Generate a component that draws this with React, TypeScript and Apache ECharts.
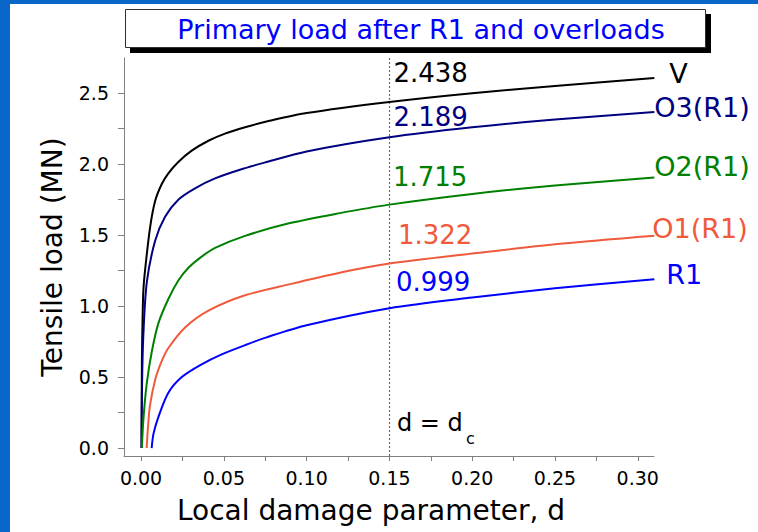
import React, { useEffect, useRef } from "react";
import * as echarts from "echarts";

const titleText = "Primary load after R1 and overloads";
const xAxisName = "Local damage parameter, d";
const yAxisName = "Tensile load (MN)";

const seriesNames = ["V", "O3(R1)", "O2(R1)", "O1(R1)", "R1"];
const seriesColors = ["#000000", "#000080", "#008000", "#f05a3c", "#0000ff"];

const loadV = [[0.0003,0],[0.0005,0.6],[0.0009,0.9],[0.0014,1.11],[0.0024,1.25],[0.0054,1.55],[0.0085,1.74],[0.0125,1.86],[0.0165,1.935],[0.0225,2.015],[0.0306,2.095],[0.0407,2.165],[0.0507,2.215],[0.0628,2.26],[0.0758,2.3],[0.1,2.36],[0.15,2.438],[0.2,2.5],[0.25,2.55],[0.31,2.607]];
const loadO3 = [[0.0003,0],[0.0006,0.45],[0.0014,0.8],[0.0035,1.17],[0.0085,1.46],[0.0145,1.63],[0.0225,1.75],[0.0326,1.83],[0.0447,1.9],[0.0628,1.972],[0.0758,2.015],[0.1,2.09],[0.15,2.19],[0.2,2.26],[0.25,2.315],[0.31,2.367]];
const loadO2 = [[0.0005,0],[0.0014,0.2],[0.0034,0.45],[0.0065,0.68],[0.0105,0.88],[0.0165,1.05],[0.0225,1.18],[0.0286,1.27],[0.0356,1.34],[0.0447,1.41],[0.0628,1.495],[0.09,1.585],[0.12,1.655],[0.15,1.715],[0.2,1.79],[0.25,1.85],[0.31,1.906]];
const loadO1 = [[0.0034,0],[0.0042,0.15],[0.0054,0.3],[0.0085,0.48],[0.0124,0.61],[0.0165,0.705],[0.0266,0.85],[0.0407,0.968],[0.0628,1.076],[0.09,1.155],[0.12,1.235],[0.15,1.3],[0.2,1.37],[0.25,1.435],[0.31,1.495]];
const loadR1 = [[0.0064,0],[0.0075,0.1],[0.0105,0.22],[0.0165,0.39],[0.0246,0.5],[0.0366,0.59],[0.0487,0.66],[0.0628,0.725],[0.0758,0.78],[0.1,0.865],[0.15,0.985],[0.2,1.06],[0.25,1.125],[0.31,1.19]];
const seriesData = [loadV, loadO3, loadO2, loadO1, loadR1];

const dc = 0.15;
const dcLoads = [2.438, 2.189, 1.715, 1.322, 0.999];

const xLabelValues = [0, 0.05, 0.1, 0.15, 0.2, 0.25, 0.3];
const xTickValues = [0, 0.025, 0.05, 0.075, 0.1, 0.125, 0.15, 0.175, 0.2, 0.225, 0.25, 0.275, 0.3];
const yLabelValues = [0, 0.5, 1, 1.5, 2, 2.5];
const yTickValues = [0, 0.25, 0.5, 0.75, 1, 1.25, 1.5, 1.75, 2, 2.25, 2.5];

const FONT = "DejaVu Sans";
const annOffsets = [[3.5, -29], [3.5, -20], [3, -28], [8, -25.5], [6, -24.6]];
const endOffsets = [[15, -5], [0, -5], [0, -11], [-2, -7], [12, -5]];

export default function App() {
  const ref = useRef<HTMLDivElement>(null);
  useEffect(() => {
    if (!ref.current) return;
    const chart = echarts.init(ref.current, null, { renderer: "svg" });
    const series: any[] = seriesData.map((data, i) => {
      const mpData: any[] = [
        {
          coord: [dc, dcLoads[i]],
          label: {
            show: true,
            position: "right",
            distance: 0,
            offset: annOffsets[i],
            formatter: dcLoads[i].toFixed(3),
            color: seriesColors[i],
            fontSize: 26,
            fontFamily: FONT,
          },
        },
      ];
      if (i === 0) {
        mpData.push({
          coord: [dc, 0],
          label: { show: true, position: "right", distance: 0, offset: [7, -25], formatter: "d = d", color: "#000", fontSize: 24, fontFamily: FONT },
        });
        mpData.push({
          coord: [dc, 0],
          label: { show: true, position: "right", distance: 0, offset: [76, -10], formatter: "c", color: "#000", fontSize: 16, fontFamily: FONT },
        });
      }
      const s: any = {
        type: "line",
        name: seriesNames[i],
        data,
        symbol: "none",
        showSymbol: false,
        smooth: 0.3,
        lineStyle: { color: seriesColors[i], width: 2 },
        itemStyle: { color: seriesColors[i] },
        z: 3,
        endLabel: {
          show: true,
          formatter: seriesNames[i],
          color: seriesColors[i],
          fontSize: 27,
          fontFamily: FONT,
          distance: 0,
          offset: endOffsets[i],
        },
        markPoint: {
          symbol: "circle",
          symbolSize: 1,
          silent: true,
          itemStyle: { color: "rgba(0,0,0,0)" },
          data: mpData,
        },
      };
      if (i === 0) {
        s.markLine = {
          silent: true,
          symbol: "none",
          label: { show: false },
          lineStyle: { color: "#707070", type: [2, 2], width: 1.2 },
          data: [{ xAxis: dc }],
          z: 1,
        };
      }
      return s;
    });

    const axisLineStyle = { color: "#808080", width: 1 };
    chart.setOption({
      animation: false,
      backgroundColor: "#ffffff",
      textStyle: { fontFamily: FONT },
      title: {
        text: titleText,
        left: 416,
        top: 24,
        textAlign: "center",
        textVerticalAlign: "middle",
        z: 10,
        textStyle: { color: "#0000ff", fontSize: 27, fontWeight: "normal", fontFamily: FONT },
      },
      graphic: [
        { type: "rect", z: 0, shape: { x: 0, y: 0, width: 10, height: 532 }, style: { fill: "#0866c8" } },
        { type: "rect", z: 0, shape: { x: 0, y: 0, width: 758, height: 4 }, style: { fill: "#0866c8" } },
        { type: "rect", z: 0, shape: { x: 130, y: 14, width: 581, height: 39 }, style: { fill: "#000000" } },
        { type: "rect", z: 1, shape: { x: 125.5, y: 9.5, width: 580, height: 38 }, style: { fill: "#ffffff", stroke: "#303030", lineWidth: 1 } },
      ],
      grid: { left: 124, right: 104, top: 58, bottom: 76 },
      xAxis: {
        type: "value",
        min: -0.0103,
        max: 0.3098,
        name: xAxisName,
        nameLocation: "middle",
        nameGap: 40,
        nameTextStyle: { fontSize: 28, color: "#000", fontFamily: FONT, padding: [0, 36, 0, 0] },
        axisLine: { show: true, onZero: false, lineStyle: axisLineStyle },
        axisTick: { show: true, customValues: xTickValues, length: 5, lineStyle: axisLineStyle },
        axisLabel: {
          customValues: xLabelValues,
          formatter: (v: number) => v.toFixed(2),
          fontSize: 19,
          color: "#000",
          margin: 12,
          fontFamily: FONT,
        },
        splitLine: { show: false },
      },
      yAxis: {
        type: "value",
        min: -0.056,
        max: 2.748,
        name: yAxisName,
        nameLocation: "middle",
        nameGap: 58,
        nameRotate: 90,
        nameTextStyle: { fontSize: 28, color: "#000", fontFamily: FONT },
        axisLine: { show: true, onZero: false, lineStyle: axisLineStyle },
        axisTick: { show: true, customValues: yTickValues, length: 6, lineStyle: axisLineStyle },
        axisLabel: {
          customValues: yLabelValues,
          formatter: (v: number) => v.toFixed(1),
          fontSize: 19,
          color: "#000",
          margin: 15,
          fontFamily: FONT,
        },
        splitLine: { show: false },
      },
      series,
    });
    return () => chart.dispose();
  }, []);
  return <div ref={ref} style={{ position: "fixed", left: 0, top: 0, width: 758, height: 532 }} />;
}
